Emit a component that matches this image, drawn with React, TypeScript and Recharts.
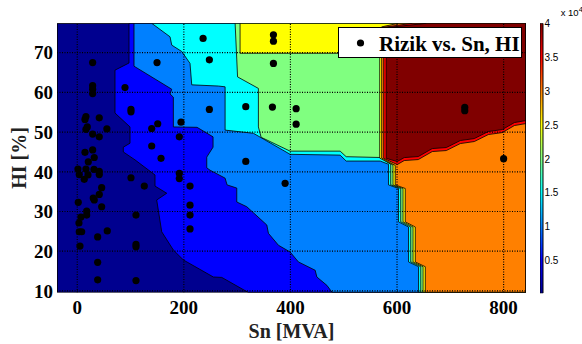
import { Bar, BarChart, Label, Scatter, ScatterChart, XAxis, YAxis } from "recharts";

const SERIF = "'Liberation Serif', 'Times New Roman', serif";
const SANS = "'Liberation Sans', Arial, sans-serif";

// axis ranges (data units)
const X_MIN = -38;
const X_MAX = 842;
const Y_MIN = 9.6;
const Y_MAX = 77.4;
const X_TICKS = [0, 200, 400, 600, 800];
const Y_TICKS = [10, 20, 30, 40, 50, 60, 70];
const CBAR_TICKS = [0.5, 1, 1.5, 2, 2.5, 3, 3.5, 4];
const CBAR_DATA = [{ name: "rizik", v: 4 }];

// contourf fill colours, lowest level first (jet)
const LEVEL_COLORS = [
  "#00008F", "#0000FF", "#0080FF", "#00FFFF", "#80FF80",
  "#FFFF00", "#FF8000", "#FF0000", "#800000",
];

// contour boundaries [Sn, HI]; the level above each one lies to its right
const B1 = [[97.1, 77.4], [97.1, 67.4], [70.8, 65.6], [70.8, 54.8], [99, 51.3], [99, 47.2], [86.4, 46.2], [86.4, 45], [108.4, 43], [145.9, 39.2], [145.9, 36.4], [167.9, 34.6], [149.1, 32.9], [158.5, 24.9], [180.3, 20.3], [199.1, 17.8], [255.4, 13.5], [271.2, 13.4], [321.1, 9.6]];
const B2 = [[106.5, 77.4], [106.5, 66.6], [177.3, 60.8], [174.1, 59.6], [180.3, 58.8], [180.3, 51.3], [224.8, 51.2], [254.8, 48.8], [254.8, 46.2], [243, 43.7], [243, 41], [249.2, 40.4], [277.4, 38.4], [281.1, 36.7], [299.3, 35.9], [299.3, 32.4], [318.1, 31.2], [355.7, 26.6], [358.7, 24.5], [377.5, 21.5], [399.4, 19.8], [415, 17.3], [446.4, 15.2], [449.6, 13.5], [468.4, 11.4], [478.3, 9.6]];
const B3 = [[139.7, 77.4], [174.1, 74], [177.3, 71.9], [196.1, 70.3], [211.6, 67.3], [214.8, 61.9], [264.8, 61.6], [277.4, 61.4], [277.4, 50.5], [330.5, 49.7], [399.4, 44.4], [493.3, 44.2], [504.6, 42.7], [568.5, 42.7], [584, 41.9], [584, 36.7], [602.8, 35.8], [602.8, 27.4], [621.6, 26.1], [621.6, 17.3], [640.4, 16.1], [640.4, 9.6]];
const B4 = [[296.2, 77.4], [300.8, 63.9], [339.9, 61], [339.9, 51.3], [345, 48.7], [399.4, 45.2], [493.3, 45.2], [504.6, 43.8], [568.5, 43.6], [588.2, 41.9], [588.2, 36.7], [607, 35.8], [607, 27.4], [625.8, 26.1], [625.8, 17.3], [644.6, 16.1], [644.6, 9.6]];
const B5 = [[305.5, 77.4], [305.5, 69.85], [567.5, 69.85], [567.5, 43.45], [592.4, 41.7], [592.4, 36.7], [611.2, 35.8], [611.2, 27.4], [630, 26.1], [630, 17.3], [648.8, 16.1], [648.8, 9.6]];
const B6 = [[602.3, 77.4], [571.2, 76.5], [571.2, 43.45], [596.6, 41.6], [596.6, 36.7], [615.4, 35.8], [615.4, 27.4], [634.2, 26.1], [634.2, 17.3], [653, 16.1], [653, 9.6]];
const B7 = [[628.6, 77.4], [575, 76.4], [575, 43.4], [600.4, 41.82], [613.5, 42.83], [639.8, 43.08], [666.1, 45.1], [692.4, 45.35], [718.7, 47.11], [745, 47.62], [771.3, 49.38], [797.6, 49.88], [820.2, 51.65], [842, 52.15]];
const B8 = [[654.9, 77.4], [579.7, 76.3], [579.7, 43.4], [600.4, 42.57], [613.5, 43.58], [639.8, 43.83], [666.1, 45.85], [692.4, 46.1], [718.7, 47.87], [745, 48.37], [771.3, 50.14], [797.6, 50.64], [820.2, 52.4], [842, 52.9]];

// measured transformers: Sn [MVA] and HI [%]
const SN = [28.9, 28.9, 28.9, 28.9, 89.6, 100.8, 100.8, 149.7, 236.1, 247.9, 247.9, 316.2, 366.2, 410.7, 410.7, 368.1, 368.1, 368.1, 194.7, 316.2, 390, 727.1, 727.1, 800, 16.3, 14.5, 41.3, 18.8, 16.3, 55.6, 28.9, 41.3, 151, 139.7, 191.5, 139.7, 14.5, 28.9, 31.9, 157.2, 20.7, 1.3, 16.3, 31.4, 41.3, 3.8, 20.1, 13.1, 41.3, 100.8, 125.8, 191.5, 191.5, 45.8, 41.3, 30, 31.9, 1.9, 45.8, 17.7, 17.7, 6.9, 110.2, 211.6, 211.6, 211.6, 211.6, 3.2, 3.8, 8.3, 56.3, 38.3, 5.1, 110.2, 110.2, 38.3, 38.3, 110.2];
const HI = [67.5, 61.7, 60.8, 59.7, 61.2, 55.7, 55.1, 67.5, 73.6, 68.2, 55.7, 56.4, 56.3, 55.9, 52, 74.5, 72.9, 67.3, 52.5, 42.6, 37.1, 56.2, 55.4, 43.3, 53.9, 53.2, 53.6, 51.3, 50.7, 50.8, 49.5, 48.8, 52.1, 50.9, 48.8, 46.5, 44.9, 45.5, 43.6, 43.4, 42.5, 40.7, 40.7, 40.6, 40.1, 39.3, 39.2, 38.1, 39.3, 38.5, 36.4, 39.6, 38.3, 36, 34.3, 33.4, 32.9, 32.3, 31.2, 30.1, 29.1, 28.6, 29.1, 36.4, 31.6, 29.1, 25.6, 27.1, 24.9, 24.9, 25.1, 23.6, 21.3, 21.7, 21.1, 17.2, 12.8, 12.6];

const toPts = (b: number[][]) => b.map(([x, y]) => ({ x, y }));
const openRight = (b: number[][]) => toPts([...b, [X_MAX, Y_MIN], [X_MAX, Y_MAX]]);
const topRight = (b: number[][]) => toPts([...b, [X_MAX, Y_MAX]]);

const REGIONS = [
  toPts([[X_MIN, Y_MIN], [X_MAX, Y_MIN], [X_MAX, Y_MAX], [X_MIN, Y_MAX]]),
  openRight(B1), openRight(B2), openRight(B3), openRight(B4), openRight(B5), openRight(B6),
  topRight(B7), topRight(B8),
];
const FRAME = toPts([[X_MIN, Y_MIN], [X_MAX, Y_MIN], [X_MAX, Y_MAX], [X_MIN, Y_MAX], [X_MIN, Y_MIN]]);
const DOTS = SN.map((x, i) => ({ x, y: HI[i] }));

const noShape = () => <g />;
const dot = (p: any) => <circle cx={p.cx} cy={p.cy} r={3.6} fill="#000" />;

const tickStyle = { fontSize: 19, fontWeight: "bold", fontFamily: SERIF, fill: "#000" };
const titleStyle = { fontSize: 20, fontWeight: "bold", fontFamily: SERIF, fill: "#222" };

function Exponent(props: any) {
  const vb = props.viewBox || { x: 0, y: 0, width: 0 };
  return (
    <text x={vb.x + (vb.width || 0) - 2} y={vb.y - 7} fontSize={9.5} fontFamily={SANS} fill="#000">
      x 10<tspan dy={-4} fontSize={7.5}>4</tspan>
    </text>
  );
}

export default function App() {
  return (
    <div style={{ position: "absolute", left: 0, top: 0, width: 582, height: 344, background: "#fff" }}>
      {/* filled contour levels + axes */}
      <ScatterChart width={582} height={344} margin={{ top: 23.3, right: 56, bottom: 6.5, left: 7 }}>
        <XAxis
          type="number" dataKey="x" domain={[X_MIN, X_MAX]} allowDataOverflow
          ticks={X_TICKS} interval={0} tickSize={0} tickMargin={8} axisLine={false}
          height={45} tick={tickStyle}
        >
          <Label value="Sn [MVA]" position="insideBottom" offset={0} {...titleStyle} />
        </XAxis>
        <YAxis
          type="number" dataKey="y" domain={[Y_MIN, Y_MAX]} allowDataOverflow
          ticks={Y_TICKS} interval={0} tickSize={0} tickMargin={4} axisLine={false}
          width={50} tick={tickStyle}
        >
          <Label value="HI [%]" angle={-90} position="insideLeft" offset={11.5}
            style={{ textAnchor: "middle" }} {...titleStyle} />
        </YAxis>
        {REGIONS.map((pts, i) => (
          <Scatter
            key={`lvl${i}`} data={pts} shape={noShape} legendType="none"
            line={{ fill: LEVEL_COLORS[i], stroke: i === 0 ? "none" : "#000", strokeWidth: 0.8 }}
            isAnimationActive={false}
          />
        ))}
      </ScatterChart>

      {/* dotted grid, frame and points on a second layer above the fills */}
      <div style={{ position: "absolute", left: 0, top: 0 }}>
        <ScatterChart width={582} height={344} margin={{ top: 23.3, right: 56, bottom: 51.5, left: 57 }}>
          <XAxis type="number" dataKey="x" domain={[X_MIN, X_MAX]} allowDataOverflow hide />
          <YAxis type="number" dataKey="y" domain={[Y_MIN, Y_MAX]} allowDataOverflow hide />
          {X_TICKS.map((t) => (
            <Scatter key={`gx${t}`} data={[{ x: t, y: Y_MIN }, { x: t, y: Y_MAX }]} shape={noShape}
              line={{ stroke: "#000", strokeWidth: 1.2, strokeDasharray: "1 1.5" }}
              legendType="none" isAnimationActive={false} />
          ))}
          {Y_TICKS.map((t) => (
            <Scatter key={`gy${t}`} data={[{ x: X_MIN, y: t }, { x: X_MAX, y: t }]} shape={noShape}
              line={{ stroke: "#000", strokeWidth: 1.2, strokeDasharray: "1 1.5" }}
              legendType="none" isAnimationActive={false} />
          ))}
          <Scatter data={FRAME} shape={noShape} legendType="none"
            line={{ stroke: "#000", strokeWidth: 1.5 }} isAnimationActive={false} />
          <Scatter name="Rizik vs. Sn, HI" data={DOTS} shape={dot} isAnimationActive={false} />
        </ScatterChart>
      </div>

      {/* legend box */}
      <svg width={184} height={31} style={{ position: "absolute", left: 337.5, top: 26.8 }}>
        <rect x={0.5} y={0.5} width={183} height={30} fill="#fff" stroke="#000" />
        <circle cx={22.5} cy={16} r={3.6} fill="#000" />
        <text x={41} y={23.5} fontSize={21} fontWeight="bold" fontFamily={SERIF} fill="#000">
          Rizik vs. Sn, HI
        </text>
      </svg>

      {/* colour bar */}
      <div style={{ position: "absolute", left: 540, top: 0 }}>
        <BarChart width={42} height={344} data={CBAR_DATA} barCategoryGap={0}
          margin={{ top: 23.3, right: 19.3, bottom: 50.7, left: 0 }}>
          <defs>
            <linearGradient id="jet" x1="0" y1="1" x2="0" y2="0">
              <stop offset="0" stopColor="#00008F" />
              <stop offset="0.125" stopColor="#0000FF" />
              <stop offset="0.375" stopColor="#00FFFF" />
              <stop offset="0.625" stopColor="#FFFF00" />
              <stop offset="0.875" stopColor="#FF0000" />
              <stop offset="1" stopColor="#800000" />
            </linearGradient>
          </defs>
          <XAxis dataKey="name" hide />
          <YAxis
            orientation="right" type="number" domain={[0.02, 4]} allowDataOverflow
            ticks={CBAR_TICKS} interval={0} tickSize={0} tickMargin={1} axisLine={false}
            width={19.3} tick={{ fontSize: 10, fontFamily: SANS, fill: "#000" }}
          >
            <Label content={Exponent} />
          </YAxis>
          <Bar dataKey="v" fill="url(#jet)" stroke="#000" strokeWidth={1} isAnimationActive={false} />
        </BarChart>
      </div>
    </div>
  );
}
